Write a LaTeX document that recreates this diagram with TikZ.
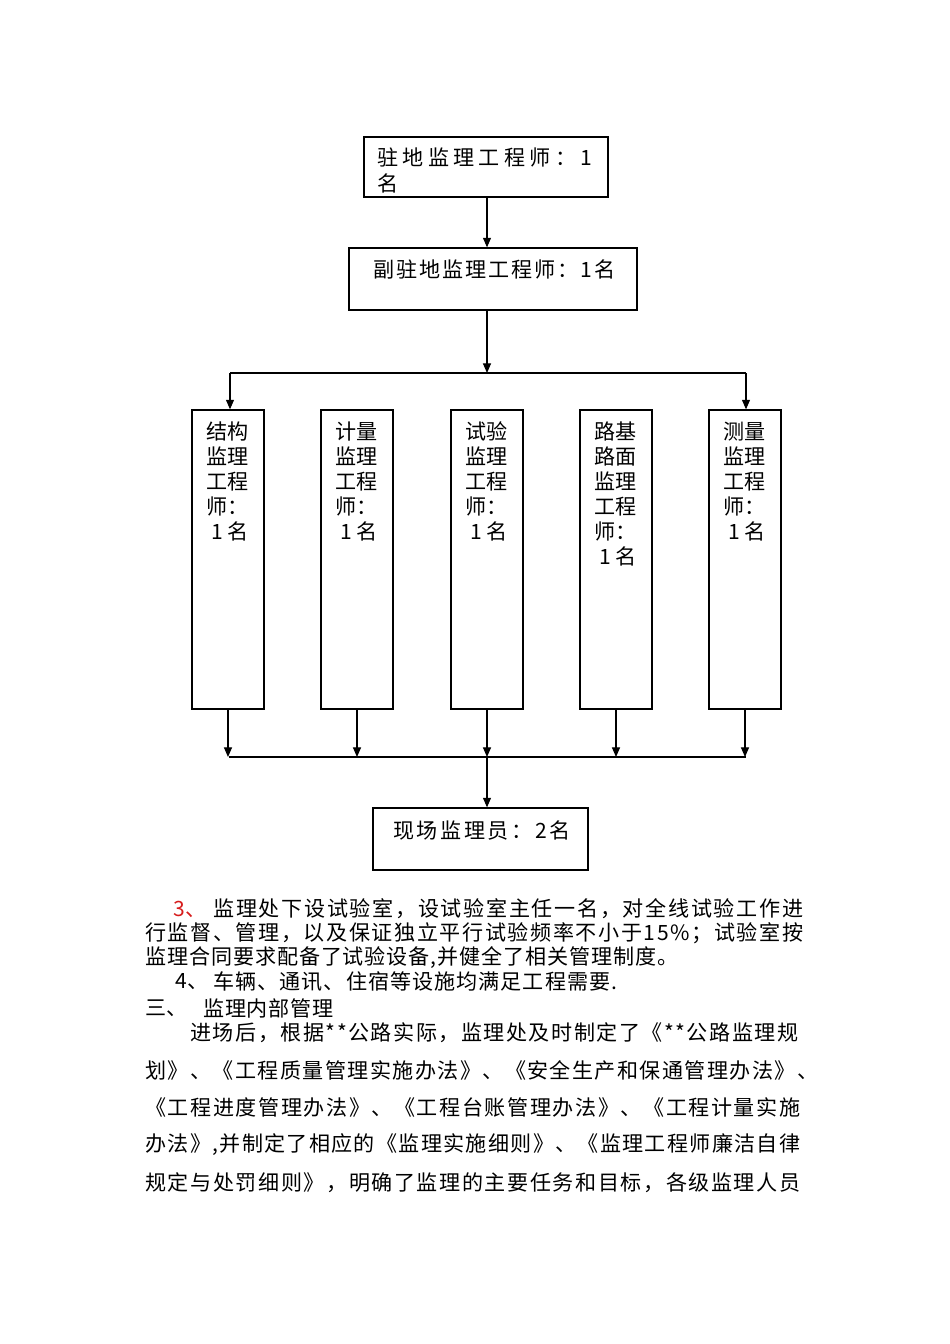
\documentclass[tikz,border=0pt]{standalone}
\usepackage{fontspec}
\setmainfont{Noto Sans CJK SC}
\usepackage{tikz}
\usetikzlibrary{arrows.meta,fit}
% spread a line of glyphs over a width given in px
\newlength\spreadwd
\def\spreadit#1#2{#1\ifx\relax#2\else\hfill\expandafter\spreadit\expandafter#2\fi}
\newcommand\spreadto[2]{\pgfmathsetlength\spreadwd{(#1)*0.6266pt}\makebox[\spreadwd][l]{\spreadit#2\relax}}
\newcommand\onename{\hspace*{3pt}1\hspace{3pt}名}

\begin{document}
\begin{tikzpicture}[x=0.6266pt,y=-0.6266pt,
  box/.style={draw,line width=.8pt,inner sep=0pt},
  txt/.style={inner sep=0pt,font=\fontsize{13.2}{15.7}\selectfont},
  ln/.style={line width=.7pt},
  arr/.style={-{Triangle[length=6pt,width=5pt]},line width=.7pt}]
\definecolor{numred}{RGB}{214,28,28}
\useasboundingbox (0,0) rectangle (950,1344);
%% --- resident engineer and deputy ---
\node[box, fit={(364,137) (608,197)}] (zd) {};
\node[txt, anchor=west] (zd-a) at (377,157) {\spreadto{215}{驻地监理工程师：1}};
\node[txt, anchor=west] (zd-b) at (377,183) {名};
\node[box, fit={(349,248) (637,310)}] (fzd) {};
\node[txt, anchor=west] (fzd-a) at (373,269) {\spreadto{242}{副驻地监理工程师：1名}};
%% --- five specialist engineers ---
\foreach \nm/\xl in {jg/192, jl/321, sy/451, lj/580, cl/709}
  \node[box, fit={(\xl,410) (\xl+72,709)}] (\nm) {};
\node[txt, align=left, anchor=north west] (jg-t) at ([shift={(15,12)}]jg.north west) {结构\\监理\\工程\\师：\\\onename};
\node[txt, align=left, anchor=north west] (jl-t) at ([shift={(15,12)}]jl.north west) {计量\\监理\\工程\\师：\\\onename};
\node[txt, align=left, anchor=north west] (sy-t) at ([shift={(15,12)}]sy.north west) {试验\\监理\\工程\\师：\\\onename};
\node[txt, align=left, anchor=north west] (lj-t) at ([shift={(15,12)}]lj.north west) {路基\\路面\\监理\\工程\\师：\\\onename};
\node[txt, align=left, anchor=north west] (cl-t) at ([shift={(15,12)}]cl.north west) {测量\\监理\\工程\\师：\\\onename};
%% --- site inspectors ---
\node[box, fit={(373,808) (588,870)}] (xc) {};
\node[txt, anchor=west] (xc-a) at (393,830) {\spreadto{177}{现场监理员：2名}};
%% --- connectors ---
\coordinate (b1) at (487,373);
\coordinate (b1l) at (230,373);
\coordinate (b1r) at (746,373);
\coordinate (b2) at (487,757);
\coordinate (b2l) at (229,757);
\coordinate (b2r) at (746,757);
\draw[arr] (zd.south -| b1) -- (fzd.north -| b1);
\draw[arr] (fzd.south -| b1) -- (b1);
\draw[ln] (b1l) -- (b1r);
\draw[arr] (b1l) -- (b1l |- jg.north);
\draw[arr] (b1r) -- (b1r |- cl.north);
\foreach \nm in {jg,jl,sy,lj,cl}
  \draw[arr] (\nm.south) -- (\nm.south |- b2);
\draw[ln] (b2l) -- (b2r);
\draw[arr] (b2) -- (b2 |- xc.north);
%% --- text below the chart ---
\node[txt, anchor=west, text=numred] (n3) at (173,909) {3、};
\node[txt, anchor=west] (p1) at (213,909) {\spreadto{590}{监理处下设试验室，设试验室主任一名，对全线试验工作进}};
\node[txt, anchor=west] (p2) at (145,933) {\spreadto{658}{行监督、管理，以及保证独立平行试验频率不小于15\%；试验室按}};
\node[txt, anchor=west] (p3) at (145,958) {\spreadto{533}{监理合同要求配备了试验设备,并健全了相关管理制度。}};
\node[txt, anchor=west] (n4) at (175,982) {4、};
\node[txt, anchor=west] (p4) at (213,982) {\spreadto{404}{车辆、通讯、住宿等设施均满足工程需要.}};
\node[txt, anchor=west] (n5) at (145,1008) {三、};
\node[txt, anchor=west] (p5) at (203,1008) {\spreadto{130}{监理内部管理}};
\node[txt, anchor=west] (p6) at (190,1033) {\spreadto{608}{进场后，根据**公路实际，监理处及时制定了《**公路监理规}};
\node[txt, anchor=west] (p7) at (145,1070) {\spreadto{673}{划》、《工程质量管理实施办法》、《安全生产和保通管理办法》、}};
\node[txt, anchor=west] (p8) at (145,1107) {\spreadto{655}{《工程进度管理办法》、《工程台账管理办法》、《工程计量实施}};
\node[txt, anchor=west] (p9) at (145,1145) {\spreadto{655}{办法》,并制定了相应的《监理实施细则》、《监理工程师廉洁自律}};
\node[txt, anchor=west] (p10) at (145,1183) {\spreadto{655}{规定与处罚细则》，明确了监理的主要任务和目标，各级监理人员}};
\end{tikzpicture}
\end{document}
